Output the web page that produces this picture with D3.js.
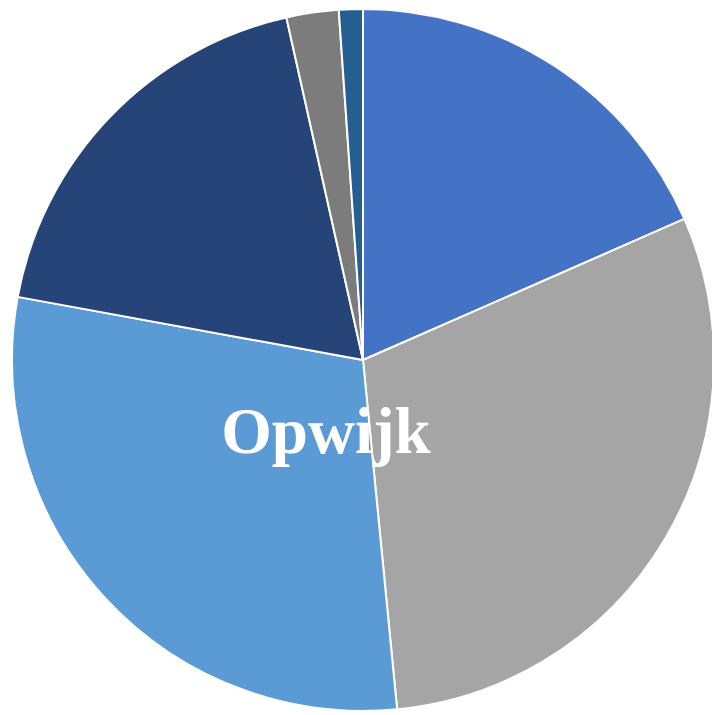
<!DOCTYPE html>
<html>
<head>
<meta charset="utf-8">
<script src="https://cdn.jsdelivr.net/npm/d3@7"></script>
<style>
  html, body { margin: 0; padding: 0; background: #fff; }
  svg { display: block; }
</style>
</head>
<body>
<svg id="chart" width="712" height="715"></svg>
<script>
// Share of each category, clockwise from 12 o'clock
const categories = ["A", "B", "C", "D", "E", "F"];
const values = [18.4, 30.0, 29.4, 18.6, 2.4, 1.1];
const colors = ["#4472C4", "#A5A5A5", "#5B9BD5", "#264478", "#7C7C7C", "#255E91"];
const title = "Opwijk";

const svg = d3.select("#chart");
const cx = 363, cy = 360, radius = 351;

const pie = d3.pie().sort(null).value(d => d.value);
const arc = d3.arc().innerRadius(0).outerRadius(radius);

const data = categories.map((c, i) => ({ name: c, value: values[i] }));
const color = d3.scaleOrdinal().domain(categories).range(colors);

const g = svg.append("g").attr("transform", `translate(${cx},${cy})`);

g.selectAll("path")
  .data(pie(data))
  .join("path")
  .attr("d", arc)
  .attr("fill", d => color(d.data.name))
  .attr("stroke", "#fff")
  .attr("stroke-width", 2)
  .attr("stroke-linejoin", "round");

svg.append("text")
  .attr("x", 326)
  .attr("y", 453)
  .attr("text-anchor", "middle")
  .attr("font-family", "'Liberation Serif', 'DejaVu Serif', serif")
  .attr("font-weight", "bold")
  .attr("font-size", 65)
  .attr("fill", "#fff")
  .text(title);
</script>
</body>
</html>
